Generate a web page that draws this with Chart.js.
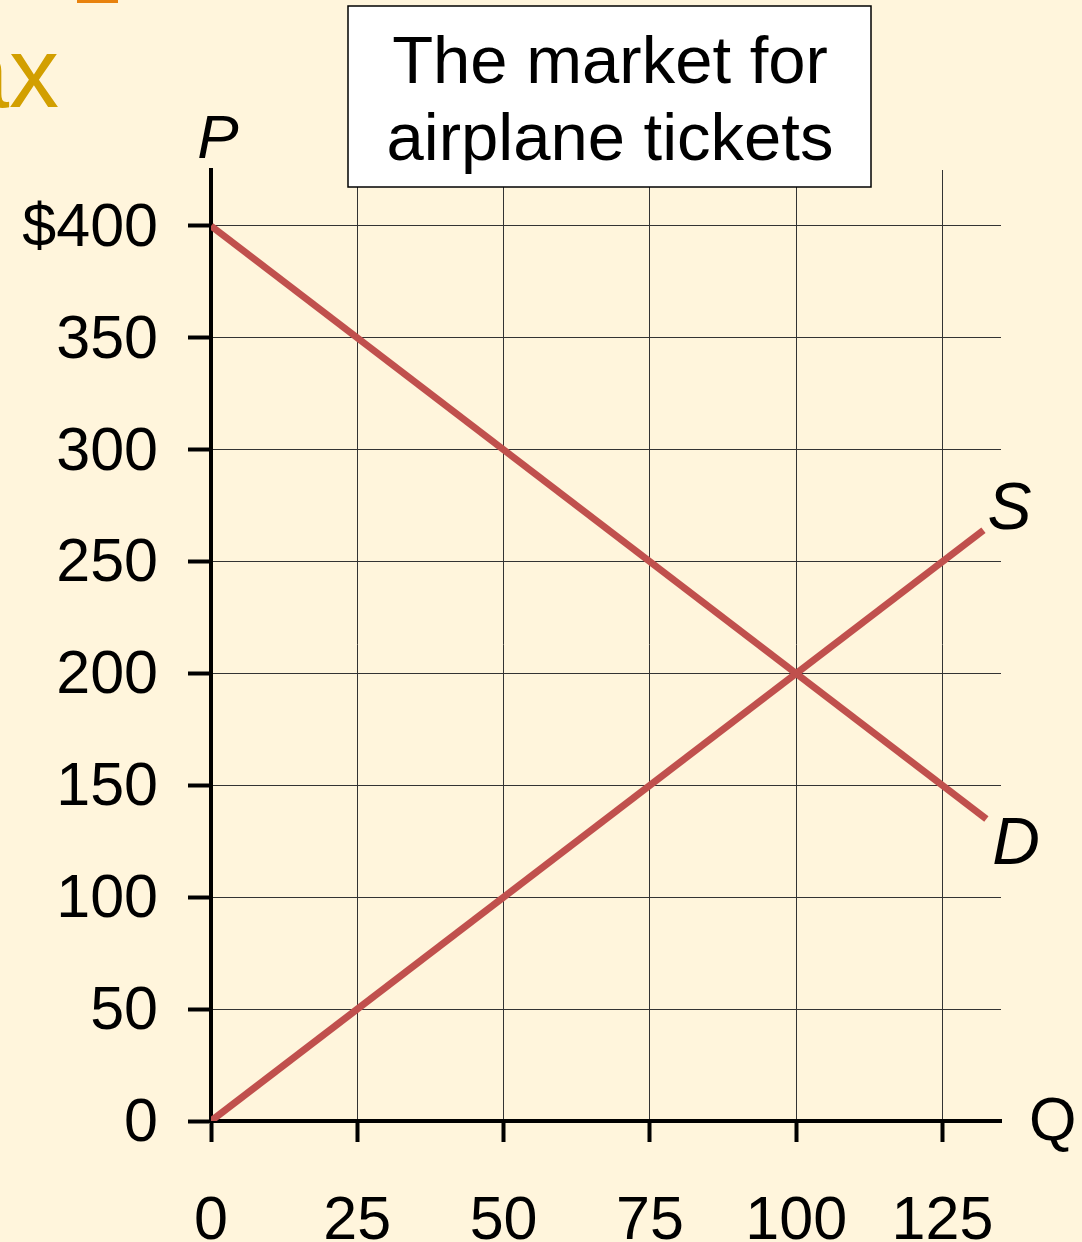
<!DOCTYPE html>
<html>
<head>
<meta charset="utf-8">
<script src="https://cdn.jsdelivr.net/npm/chart.js@4.4.1/dist/chart.umd.min.js"></script>
<style>
  html, body { margin: 0; padding: 0; background: #FFF5DC; }
  #wrap { width: 1082px; height: 1242px; position: relative; }
</style>
</head>
<body>
<div id="wrap"><canvas id="c" width="1082" height="1242"></canvas></div>
<script>
// data (quantity, price)
const demandQ = [0, 132.5];
const demandP = [400, 135];
const supplyQ = [0, 132];
const supplyP = [0, 264];
const xTicks = [0, 25, 50, 75, 100, 125];
const yTicks = [0, 50, 100, 150, 200, 250, 300, 350, 400];
const titleLines = ["The market for", "airplane tickets"];

const RED = '#C0504D';
const FONT = '"Liberation Sans", Arial, sans-serif';

function pts(xs, ys) { return xs.map((x, i) => ({ x: x, y: ys[i] })); }

// labels, title box, slide leftovers
const extras = {
  id: 'extras',
  afterDraw(chart) {
    const ctx = chart.ctx;
    const xs = chart.scales.x, ys = chart.scales.y;
    ctx.save();
    // slide title leftovers at top left
    ctx.fillStyle = '#E8820E';
    ctx.fillRect(77, 0, 41, 3);
    ctx.fillStyle = '#D29F00';
    ctx.font = '100px ' + FONT;
    ctx.textAlign = 'right';
    ctx.textBaseline = 'alphabetic';
    ctx.fillText('Tax', 59, 107);

    // title box
    ctx.fillStyle = '#fff';
    ctx.fillRect(348, 6, 523, 181);
    ctx.strokeStyle = '#000';
    ctx.lineWidth = 1.5;
    ctx.strokeRect(348, 6, 523, 181);
    ctx.fillStyle = '#000';
    ctx.font = '67px ' + FONT;
    ctx.textAlign = 'center';
    ctx.fillText(titleLines[0], 610, 83);
    ctx.fillText(titleLines[1], 610, 160);

    // axis names
    ctx.font = 'italic 62px ' + FONT;
    ctx.fillText('P', xs.getPixelForValue(0) + 7, 158);
    ctx.textAlign = 'left';
    ctx.font = '61px ' + FONT;
    ctx.fillText('Q', 1029, ys.getPixelForValue(0) + 19);

    // curve names
    ctx.font = 'italic 66px ' + FONT;
    ctx.fillText('S', xs.getPixelForValue(supplyQ[1]) + 4, ys.getPixelForValue(supplyP[1]) - 1);
    ctx.fillText('D', xs.getPixelForValue(demandQ[1]) + 6, ys.getPixelForValue(demandP[1]) + 45);
    ctx.restore();
  }
};

new Chart(document.getElementById('c'), {
  type: 'scatter',
  data: {
    datasets: [
      { label: 'D', data: pts(demandQ, demandP), showLine: true, borderColor: RED, borderWidth: 7, pointRadius: 0, borderCapStyle: 'butt' },
      { label: 'S', data: pts(supplyQ, supplyP), showLine: true, borderColor: RED, borderWidth: 7, pointRadius: 0, borderCapStyle: 'butt' }
    ]
  },
  options: {
    responsive: false,
    animation: false,
    layout: { padding: { top: 170, right: 81, left: 0, bottom: 0 } },
    plugins: { legend: { display: false }, tooltip: { enabled: false } },
    scales: {
      x: {
        type: 'linear', min: 0, max: 135, z: 1,
        afterBuildTicks: s => { s.ticks = xTicks.map(v => ({ value: v })); },
        afterFit: s => { s.height = 121; },
        grid: { color: '#333', lineWidth: 1, tickLength: 21, tickWidth: 4, tickColor: '#000' },
        border: { color: '#000', width: 4 },
        ticks: { color: '#000', padding: 44, maxRotation: 0, font: { size: 61, family: FONT } }
      },
      y: {
        type: 'linear', min: 0, max: 425, z: 1,
        afterBuildTicks: s => { s.ticks = yTicks.map(v => ({ value: v })); },
        afterFit: s => { s.width = 211; },
        grid: { color: '#333', lineWidth: 1, tickLength: 23, tickWidth: 4, tickColor: '#000' },
        border: { color: '#000', width: 4 },
        ticks: {
          color: '#000', padding: 30, labelOffset: 3, font: { size: 61, family: FONT },
          callback: v => v === 400 ? '$400' : String(v)
        }
      }
    }
  },
  plugins: [extras]
});
</script>
</body>
</html>
